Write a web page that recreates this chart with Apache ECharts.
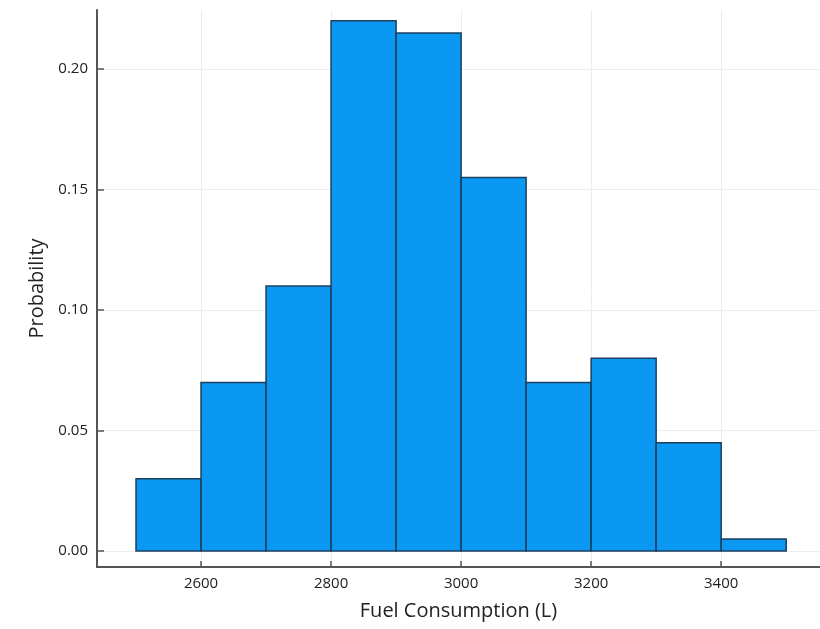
<!DOCTYPE html>
<html>
<head>
<meta charset="utf-8">
<script src="https://cdn.jsdelivr.net/npm/echarts@6/dist/echarts.min.js"></script>
<style>
  html, body { margin: 0; padding: 0; background: #fff; }
  #chart { width: 820px; height: 629px; }
</style>
</head>
<body>
<div id="chart"></div>
<script>
// histogram bins (L) and probabilities
const binStarts = [2500, 2600, 2700, 2800, 2900, 3000, 3100, 3200, 3300, 3400]
const binWidth = 100
const probs = [0.03, 0.07, 0.11, 0.22, 0.215, 0.155, 0.07, 0.08, 0.045, 0.005]
const xTicks = [2600, 2800, 3000, 3200, 3400]
const yTicks = [0, 0.05, 0.10, 0.15, 0.20]

const data = binStarts.map((s, i) => [s, s + binWidth, probs[i]])

var myChart = echarts.init(document.getElementById('chart'))

myChart.setOption({
  animation: false,
  textStyle: { fontFamily: 'Open Sans' },
  grid: {
    left: 97,
    top: 10,
    right: 0,
    bottom: 62
  },
  xAxis: {
    type: 'value',
    min: 2440,
    max: 3552,
    name: 'Fuel Consumption (L)',
    nameLocation: 'middle',
    nameGap: 34,
    nameTextStyle: { fontSize: 20, color: '#222' },
    axisLine: { onZero: false, lineStyle: { color: '#555', width: 2 } },
    axisTick: { show: true, inside: true, length: 6, customValues: xTicks, lineStyle: { color: '#555', width: 1.5 } },
    axisLabel: { customValues: xTicks, fontSize: 15, color: '#222', margin: 9, formatter: v => String(v) },
    splitLine: { show: true, lineStyle: { color: '#ededed', width: 1 } }
  },
  yAxis: {
    type: 'value',
    min: -0.0066,
    max: 0.2245,
    name: 'Probability',
    nameLocation: 'middle',
    nameGap: 50,
    nameTextStyle: { fontSize: 20, color: '#222' },
    axisLine: { show: true, lineStyle: { color: '#555', width: 2 } },
    axisTick: { show: true, inside: true, length: 7, customValues: yTicks, lineStyle: { color: '#555', width: 1.5 } },
    axisLabel: {
      customValues: yTicks,
      fontSize: 15,
      color: '#222',
      margin: 9,
      formatter: v => v.toFixed(2)
    },
    splitLine: { show: true, lineStyle: { color: '#ededed', width: 1 } }
  },
  series: [
    {
      type: 'custom',
      data: data,
      encode: { x: [0, 1], y: 2 },
      renderItem: function (params, api) {
        const p0 = api.coord([api.value(0), 0])
        const p1 = api.coord([api.value(1), api.value(2)])
        return {
          type: 'rect',
          shape: {
            x: p0[0],
            y: p1[1],
            width: p1[0] - p0[0],
            height: p0[1] - p1[1]
          },
          style: {
            fill: '#0a98f2',
            stroke: '#1c3f5e',
            lineWidth: 1.5
          }
        }
      }
    }
  ]
})
</script>
</body>
</html>
